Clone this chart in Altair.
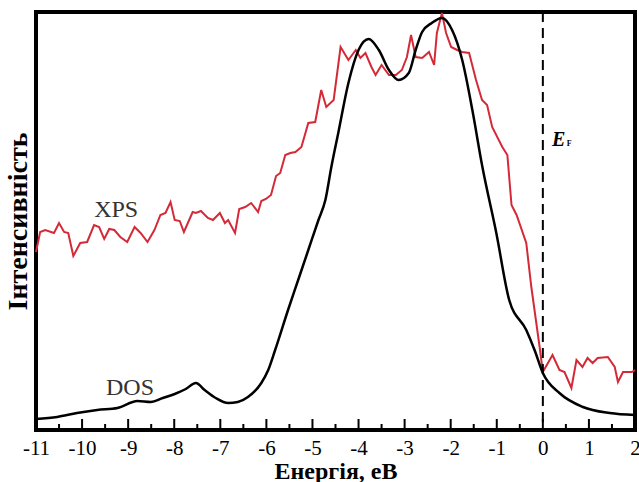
import altair as alt
import pandas as pd

# XPS spectrum (energy in eV, intensity in arbitrary units)
xps_e = [-11.00, -10.91, -10.80, -10.61, -10.50, -10.39, -10.30, -10.19, -10.04, -9.89,
         -9.74, -9.63, -9.52, -9.41, -9.30, -9.17, -9.02, -8.86, -8.73, -8.58,
         -8.43, -8.30, -8.19, -8.08, -7.99, -7.88, -7.79, -7.60, -7.53, -7.42,
         -7.27, -7.16, -7.01, -6.90, -6.83, -6.68, -6.59, -6.46, -6.33, -6.18,
         -6.11, -6.01, -5.90, -5.79, -5.70, -5.59, -5.48, -5.37, -5.24, -5.09,
         -4.94, -4.81, -4.70, -4.54, -4.39, -4.22, -4.06, -3.96, -3.85, -3.72,
         -3.63, -3.50, -3.34, -3.19, -3.06, -2.95, -2.86, -2.76, -2.62, -2.47,
         -2.36, -2.30, -2.19, -2.10, -1.99, -1.86, -1.75, -1.60, -1.45, -1.32,
         -1.21, -1.10, -0.88, -0.77, -0.68, -0.57, -0.36, -0.25, -0.07, 0.00,
         0.21, 0.36, 0.47, 0.62, 0.73, 0.86, 0.97, 1.08, 1.19, 1.41,
         1.56, 1.63, 1.74, 1.93, 2.00]
xps_i = [175, 195, 197, 194, 204, 195, 194, 171, 184, 185,
         202, 200, 188, 198, 197, 190, 185, 200, 194, 185,
         197, 212, 214, 225, 207, 206, 195, 215, 214, 216,
         209, 207, 214, 204, 207, 194, 218, 220, 224, 215,
         226, 228, 232, 251, 254, 272, 274, 275, 280, 304,
         305, 337, 320, 327, 380, 367, 377, 369, 374, 360,
         352, 362, 352, 352, 357, 370, 392, 370, 369, 375,
         362, 394, 414, 394, 380, 377, 375, 374, 347, 327,
         322, 300, 280, 272, 222, 212, 184, 140, 80, 55,
         72, 57, 55, 39, 67, 60, 69, 64, 69, 70,
         60, 45, 55, 55, 57]

# Calculated density of states
dos_e = [-11.00, -10.54, -10.11, -9.67, -9.23, -8.80, -8.51, -8.25, -7.99, -7.75,
         -7.53, -7.34, -7.10, -6.83, -6.62, -6.40, -6.11, -5.96, -5.81, -5.53,
         -5.31, -5.09, -4.87, -4.72, -4.59, -4.44, -4.22, -4.00, -3.78, -3.56,
         -3.34, -3.13, -2.91, -2.76, -2.62, -2.41, -2.19, -1.97, -1.75, -1.53,
         -1.32, -1.01, -0.73, -0.36, -0.18, 0.00, 0.36, 0.87, 1.45, 2.00]
dos_i = [8, 10, 14, 17, 19, 26, 25, 29, 33, 38,
         44, 37, 29, 24, 25, 30, 44, 57, 77, 117,
         147, 177, 207, 227, 260, 294, 344, 377, 388, 377,
         357, 347, 354, 377, 395, 404, 409, 397, 367, 317,
         262, 194, 127, 97, 77, 54, 34, 20, 14, 12]

major_ticks = list(range(-11, 3))
minor_ticks = [v + 0.5 for v in range(-11, 2)]

labels_text = ["XPS", "DOS"]
labels_e = [-9.26, -8.96]
labels_i = [217, 39]

SERIF = "Liberation Serif"
X = alt.Scale(domain=[-11, 2], nice=False, zero=False)
Y = alt.Scale(domain=[-3, 415], nice=False, zero=False)

xps_df = pd.DataFrame({"e": xps_e, "i": xps_i})
dos_df = pd.DataFrame({"e": dos_e, "i": dos_i})

x_axis = alt.Axis(values=major_ticks, labelExpr="'' + datum.value", ticks=False,
                  domain=False, grid=False, labelFont=SERIF, labelFontSize=21,
                  labelColor="black", labelPadding=7, labelFlush=False,
                  labelOverlap=False, title="Енергія, еВ", titleFont=SERIF,
                  titleFontSize=24, titleFontWeight="bold", titleColor="black",
                  titlePadding=1)
y_axis = alt.Axis(labels=False, ticks=False, domain=False, grid=False,
                  title="Інтенсивність", titleFont=SERIF, titleFontSize=28,
                  titleFontWeight="bold", titleColor="black", titlePadding=4)

xps = alt.Chart(xps_df).mark_line(color="#d42a38", strokeWidth=2).encode(
    x=alt.X("e:Q", scale=X, axis=x_axis),
    y=alt.Y("i:Q", scale=Y, axis=y_axis),
)
dos = alt.Chart(dos_df).mark_line(color="black", strokeWidth=2.5, interpolate="monotone").encode(
    x=alt.X("e:Q", scale=X), y=alt.Y("i:Q", scale=Y)
)

ef_line = alt.Chart(pd.DataFrame({"e": [0]})).mark_rule(
    color="black", strokeWidth=2, strokeDash=[10, 6]
).encode(x=alt.X("e:Q", scale=X))

maj = alt.Chart(pd.DataFrame({"e": major_ticks})).mark_rule(color="black", strokeWidth=2).encode(
    x=alt.X("e:Q", scale=X), y=alt.value(418), y2=alt.value(407)
)
mnr = alt.Chart(pd.DataFrame({"e": minor_ticks})).mark_rule(color="black", strokeWidth=2).encode(
    x=alt.X("e:Q", scale=X), y=alt.value(418), y2=alt.value(412)
)

lbl = alt.Chart(pd.DataFrame({"t": labels_text, "e": labels_e, "i": labels_i})).mark_text(
    font=SERIF, fontSize=24, color="#333333", baseline="middle", align="center"
).encode(x=alt.X("e:Q", scale=X), y=alt.Y("i:Q", scale=Y), text="t:N")

ef_E = alt.Chart(pd.DataFrame({"t": ["E"], "e": [0.196], "i": [281]})).mark_text(
    font=SERIF, fontSize=20, fontWeight="bold", fontStyle="italic", color="black",
    baseline="alphabetic", align="left"
).encode(x=alt.X("e:Q", scale=X), y=alt.Y("i:Q", scale=Y), text="t:N")
ef_F = alt.Chart(pd.DataFrame({"t": ["F"], "e": [0.52], "i": [281]})).mark_text(
    font=SERIF, fontSize=8, fontWeight="bold", color="black",
    baseline="alphabetic", align="left"
).encode(x=alt.X("e:Q", scale=X), y=alt.Y("i:Q", scale=Y), text="t:N")

chart = alt.layer(xps, dos, ef_line, maj, mnr, lbl, ef_E, ef_F).properties(
    width=599, height=418,
    autosize=alt.AutoSizeParams(type="none"),
    padding={"left": 36, "top": 12, "right": 4, "bottom": 52},
    background="white",
).configure_view(stroke="black", strokeWidth=4)

chart.save("out.html", embed_options={"renderer": "svg", "actions": False})
